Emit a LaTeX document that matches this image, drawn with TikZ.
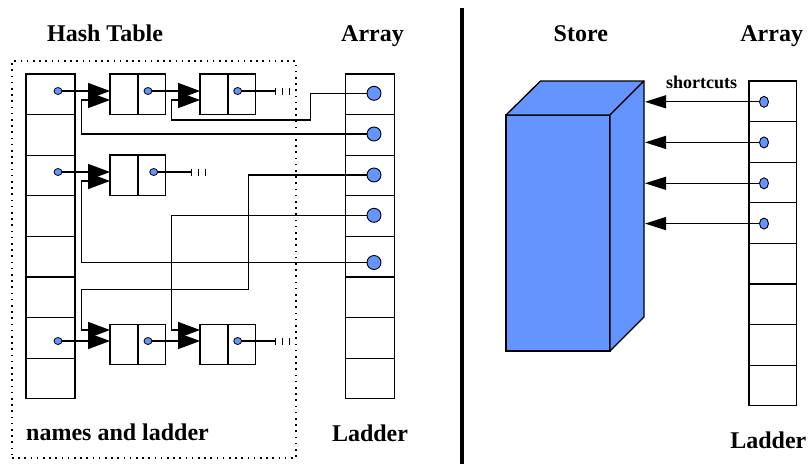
\documentclass[tikz,border=0pt]{standalone}
\usepackage{fontspec}
\setmainfont{Liberation Serif}
\usetikzlibrary{arrows.meta,shapes.geometric,calc}
\definecolor{stblue}{RGB}{100,149,255}
\begin{document}
\begin{tikzpicture}[x=1pt,y=-1pt,
  cell/.style={draw,line width=1.3pt,minimum width=49pt,minimum height=40.6pt,inner sep=0pt,outer sep=0pt},
  rcell/.style={cell,minimum width=47.7pt},
  half/.style={draw,line width=1.3pt,minimum width=27.85pt,minimum height=40.4pt,inner sep=0pt,outer sep=0pt},
  hdot/.style={ellipse,draw,fill=stblue,line width=0.8pt,minimum width=8pt,minimum height=7pt,inner sep=0pt,outer sep=0pt},
  adot/.style={circle,draw,fill=stblue,line width=0.9pt,minimum size=14pt,inner sep=0pt,outer sep=0pt},
  rdot/.style={ellipse,draw,fill=stblue,line width=0.9pt,minimum width=9pt,minimum height=11pt,inner sep=0pt,outer sep=0pt},
  conn/.style={line width=1.2pt},
  bigarrow/.style={conn,-{Triangle[length=22pt,width=16pt]}},
  sarrow/.style={conn,-{Triangle[length=21pt,width=13pt]}},
  lbl/.style={font=\bfseries\fontsize{24}{28}\selectfont,anchor=base,inner sep=0pt},
  slbl/.style={font=\bfseries\fontsize{18}{21}\selectfont,anchor=base,inner sep=0pt},
  tick/.style={line width=1.2pt}
]
\useasboundingbox (0,0) rectangle (811,464);

% frame
\node[draw,line width=1.7pt,dash pattern=on 1.6pt off 4.6pt,minimum width=284pt,minimum height=397pt,inner sep=0pt] (frame) at (154,259.5) {};

% hash table, arrays
\foreach \i in {0,...,7} {
  \node[cell] (h\i) at (50.5,94.3+40.6*\i) {};
  \node[cell] (a\i) at (370,94.3+40.6*\i) {};
  \node[rcell] (r\i) at (772.85,101.3+40.6*\i) {};
}

% list nodes
\node[half] (n1a) at (124,94.2) {};   \node[half] (n1b) at (151.9,94.2) {};
\node[half] (n2a) at (214,94.2) {};   \node[half] (n2b) at (241.9,94.2) {};
\node[half] (n3a) at (124,175.3) {};  \node[half] (n3b) at (151.9,175.3) {};
\node[half] (n4a) at (124,344.5) {};  \node[half] (n4b) at (151.9,344.5) {};
\node[half] (n5a) at (214,344.5) {};  \node[half] (n5b) at (241.9,344.5) {};

% dots
\node[hdot] (hd1) at (58,91) {};
\node[hdot] (hd3) at (58,172) {};
\node[hdot] (hd7) at (58,341) {};
\node[hdot] (d1) at (148,91) {};
\node[hdot] (d2) at (237.7,91) {};
\node[hdot] (d3) at (153.7,172) {};
\node[hdot] (d4) at (148,341) {};
\node[hdot] (d5) at (237.7,341) {};

\node[adot] (ad1) at (374,93.3) {};
\node[adot] (ad2) at (374,134) {};
\node[adot] (ad3) at (374,175) {};
\node[adot] (ad4) at (374,215.3) {};
\node[adot] (ad5) at (374,262.5) {};

% forward arrows
\draw[bigarrow] (hd1.east) -- (n1a.west |- hd1);
\draw[bigarrow] (d1.east) -- (n2a.west |- d1);
\draw[bigarrow] (hd3.east) -- (n3a.west |- hd3);
\draw[bigarrow] (hd7.east) -- (n4a.west |- hd7);
\draw[bigarrow] (d4.east) -- (n5a.west |- d4);

% null tails
\coordinate (t1) at (275.7,91);
\coordinate (t2) at (191.7,172);
\coordinate (t3) at (275.7,341);
\draw[conn] (d2.east) -- (t1);
\draw[conn] (d3.east) -- (t2);
\draw[conn] (d5.east) -- (t3);
\foreach \t in {t1,t2,t3} {
  \foreach \dx in {0,7,14} {
    \draw[tick] ([xshift=\dx pt,yshift=3.5pt]\t) -- ([xshift=\dx pt,yshift=-3.5pt]\t);
  }
}

% back pointers from array
\draw[bigarrow] (ad2.west) -| (81.7,100) -- ([yshift=-5.8pt]n1a.west);
\draw[bigarrow] (ad1.west) -| (310.7,120) -| (171.7,100) -- ([yshift=-5.8pt]n2a.west);
\draw[bigarrow] (ad5.west) -| (81.7,181) -- ([yshift=-5.7pt]n3a.west);
\draw[bigarrow] (ad3.west) -| (248.3,289.3) -| (81.7,330) -- ([yshift=14.5pt]n4a.west);
\draw[bigarrow] (ad4.west) -| (171.7,330) -- ([yshift=14.5pt]n5a.west);

% separator
\draw[line width=4pt] (461.5,8) coordinate (sepTop) -- (461.5,464) coordinate (sepBot);

% store
\node[draw,fill=stblue,line width=1.3pt,minimum width=104pt,minimum height=236pt,inner sep=0pt,outer sep=0pt] (store) at (558,233) {};
\filldraw[fill=stblue,line width=1.3pt,line join=round] (store.north west) -- ++(34.5,-34) -- ++(103.5,0) -- (store.north east) -- cycle;
\filldraw[fill=stblue,line width=1.3pt,line join=round] (store.north east) -- ++(34,-34) -- ++(0,236) -- (store.south east) -- cycle;
\coordinate (sideR) at (645,0);

% shortcuts
\node[rdot] (rd1) at (764,101.8) {};
\node[rdot] (rd2) at (764,142.4) {};
\node[rdot] (rd3) at (764,183.3) {};
\node[rdot] (rd4) at (764,223.6) {};
\foreach \k in {1,...,4} {
  \draw[sarrow] (rd\k.west) -- (sideR |- rd\k);
}

% labels
\node[lbl] (lHash) at (105,41.7) {Hash Table};
\node[lbl] (lArr1) at (372.5,41.7) {Array};
\node[lbl] (lStore) at (580.8,41.7) {Store};
\node[lbl] (lArr2) at (771.7,41.7) {Array};
\node[lbl,anchor=base west] (lNames) at (26,440.7) {names and ladder};
\node[lbl] (lLad1) at (370,441.7) {Ladder};
\node[lbl] (lLad2) at (768.3,448.3) {Ladder};
\node[slbl] (lShort) at (701.7,88.3) {shortcuts};
\end{tikzpicture}
\end{document}
